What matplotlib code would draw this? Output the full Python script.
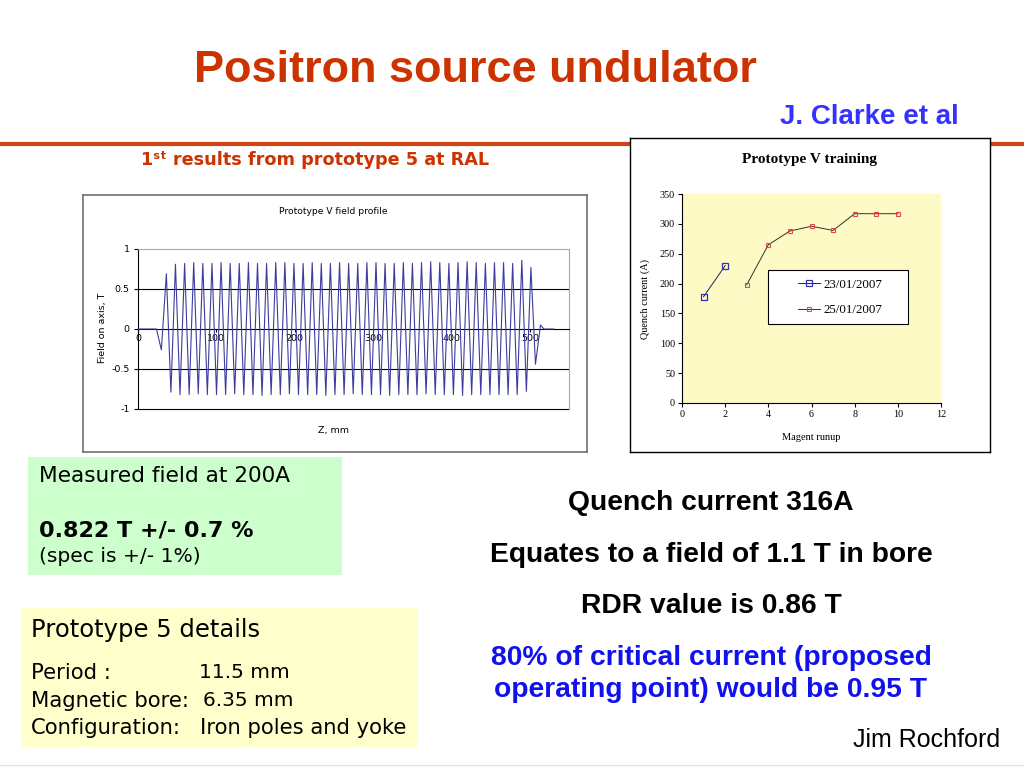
import numpy as np
import matplotlib
matplotlib.use('Agg')
import matplotlib.pyplot as plt
from matplotlib.patches import Rectangle
from matplotlib.lines import Line2D

W, H = 1024, 768

# --- field profile: extrema (z in mm, field in T) ---
start_z = [0.0, 23.5, 29.8]
start_b = [0.0, 0.0, -0.26]
peak_z = [36.2, 47.8, 59.5, 71.1, 82.7, 94.4, 106.0, 117.6, 129.2, 140.9,
          152.5, 164.1, 175.8, 187.4, 199.0, 210.7, 222.3, 233.9, 245.5, 257.2,
          268.8, 280.4, 292.1, 303.7, 315.3, 327.0, 338.6, 350.2, 361.8, 373.5,
          385.1, 396.7, 408.4, 420.0, 431.6, 443.3, 454.9, 466.5, 478.1, 489.8,
          501.4]
peak_b = [0.69, 0.81, 0.82, 0.83, 0.82, 0.82, 0.83, 0.82, 0.82, 0.83,
          0.82, 0.82, 0.83, 0.83, 0.82, 0.82, 0.83, 0.82, 0.82, 0.83,
          0.82, 0.82, 0.83, 0.83, 0.82, 0.82, 0.83, 0.82, 0.83, 0.84,
          0.83, 0.82, 0.83, 0.84, 0.83, 0.82, 0.83, 0.83, 0.82, 0.86,
          0.77]
trough_z = [42.0, 53.6, 65.3, 76.9, 88.5, 100.2, 111.8, 123.4, 135.0, 146.7,
            158.3, 169.9, 181.6, 193.2, 204.8, 216.5, 228.1, 239.7, 251.3, 263.0,
            274.6, 286.2, 297.9, 309.5, 321.1, 332.8, 344.4, 356.0, 367.6, 379.3,
            390.9, 402.5, 414.2, 425.8, 437.4, 449.1, 460.7, 472.3, 483.9, 495.6,
            507.2]
trough_b = [-0.79, -0.82, -0.82, -0.81, -0.82, -0.82, -0.82, -0.81, -0.82, -0.82,
            -0.83, -0.82, -0.82, -0.81, -0.82, -0.82, -0.82, -0.83, -0.82, -0.82,
            -0.81, -0.82, -0.82, -0.82, -0.83, -0.82, -0.82, -0.82, -0.81, -0.82,
            -0.82, -0.82, -0.83, -0.82, -0.82, -0.82, -0.82, -0.82, -0.82, -0.78,
            -0.44]
end_z = [513.6, 518.0, 530.5]
end_b = [0.05, 0.0, 0.0]
profile_xticks = [0, 100, 200, 300, 400, 500]
profile_yticks = [-1, -0.5, 0, 0.5, 1]
profile_ylabels = ['-1', '-0.5', '0', '0.5', '1']

# --- training data ---
run_a = [1, 2]
quench_a = [178, 230]
run_b = [3, 4, 5, 6, 7, 8, 9, 10]
quench_b = [198, 265, 288, 296, 289, 317, 317, 317]
label_a = '23/01/2007'
label_b = '25/01/2007'

COMIC = 'DejaVu Sans'
ARIAL = 'Liberation Sans'
TIMES = 'Liberation Serif'


def rect(x0, y0, x1, y1):
    return [x0 / W, 1 - y1 / H, (x1 - x0) / W, (y1 - y0) / H]


fig = plt.figure(figsize=(10.24, 7.68), dpi=100)
fig.patch.set_facecolor('white')


def put(x, y, s, **kw):
    kw.setdefault('va', 'center')
    fig.text(x / W, 1 - y / H, s, **kw)


def box(x0, y0, x1, y1, color, edge='none', z=0.5, parent=None):
    r = Rectangle((x0 / W, 1 - y1 / H), (x1 - x0) / W, (y1 - y0) / H,
                  transform=fig.transFigure, facecolor=color,
                  edgecolor=edge, lw=0.8, zorder=z, clip_on=False)
    (parent or fig).add_artist(r)


# header
put(475, 70, 'Positron source undulator', family=ARIAL, weight='bold',
    size=32.5, color='#cc3300', ha='center')
put(869, 117, 'J. Clarke et al', family=ARIAL, weight='bold', size=20,
    color='#3333ff', ha='center')
fig.add_artist(Line2D([0, 1], [1 - 144 / H] * 2, transform=fig.transFigure,
                      color='#cc4411', lw=3, zorder=-1))
put(315, 160, '1ˢᵗ results from prototype 5 at RAL', family=COMIC,
    weight='bold', size=12.7, color='#cc3300', ha='center')

# ---------- field profile chart ----------
frame1 = fig.add_axes(rect(83, 195, 587, 452))
frame1.set_xticks([])
frame1.set_yticks([])
for s in frame1.spines.values():
    s.set_color('#707070')
    s.set_linewidth(1.2)

ax1 = fig.add_axes(rect(138, 249, 569, 409))
ax1.set_facecolor('white')
z = np.concatenate([start_z, peak_z, trough_z, end_z])
b = np.concatenate([start_b, peak_b, trough_b, end_b])
order = np.argsort(z)
ax1.plot(z[order], b[order], color='#3d3d9e', lw=0.8, zorder=3)
ax1.set_xlim(0, 550)
ax1.set_ylim(-1, 1)
for v in (-1, -0.5, 0.5):
    ax1.axhline(v, color='black', lw=0.8, zorder=1, clip_on=False)
ax1.spines['top'].set_color('#a8a8a8')
ax1.spines['right'].set_color('#a8a8a8')
ax1.spines['left'].set_color('black')
ax1.spines['bottom'].set_position(('data', 0))
ax1.spines['bottom'].set_color('black')
for s in ax1.spines.values():
    s.set_linewidth(0.8)
ax1.set_xticks(profile_xticks)
ax1.set_xticklabels([str(v) for v in profile_xticks], family=COMIC, size=6.8)
ax1.set_yticks(profile_yticks)
ax1.set_yticklabels(profile_ylabels, family=COMIC, size=6.8)
ax1.tick_params(axis='x', length=2, width=0.8, pad=1.5)
ax1.tick_params(axis='y', length=3, width=0.8, pad=3)
put(333, 212, 'Prototype V field profile', family=COMIC, size=6.6, ha='center')
put(333, 431, 'Z, mm', family=COMIC, size=6.8, ha='center')
put(102, 328, 'Field on axis, T', family=COMIC, size=6.8, ha='center',
    rotation=90)

# ---------- training chart ----------
frame2 = fig.add_axes(rect(630, 138, 990, 452))
frame2.set_xticks([])
frame2.set_yticks([])
for s in frame2.spines.values():
    s.set_color('black')
    s.set_linewidth(1.0)

ax2 = fig.add_axes(rect(682, 194, 941, 403))
ax2.set_facecolor('#fdfac6')
ax2.plot(run_a, quench_a, color='#20205a', lw=0.7, marker='s', ms=4.5,
         mfc='none', mec='#3030b0', mew=0.9, label=label_a)
ax2.plot(run_b, quench_b, color='#303030', lw=0.7, marker='s', ms=3.4,
         mfc='none', mec='#e04848', mew=0.8, label=label_b)
ax2.set_xlim(0, 12)
ax2.set_ylim(0, 350)
ax2.set_xticks(range(0, 13, 2))
ax2.set_yticks(range(0, 351, 50))
for lab in ax2.get_xticklabels() + ax2.get_yticklabels():
    lab.set_family(TIMES)
    lab.set_size(7.3)
ax2.tick_params(length=3, width=0.8, pad=2)
ax2.spines['top'].set_visible(False)
ax2.spines['right'].set_visible(False)
ax2.spines['left'].set_linewidth(0.8)
ax2.spines['bottom'].set_linewidth(0.8)
# legend frame is drawn separately so its size can match the original
box(768, 270, 908, 324, 'white', edge='black', z=4, parent=ax2)
leg = ax2.legend(loc='center', bbox_to_anchor=(840 / W, 1 - 297.5 / H),
                 bbox_transform=fig.transFigure, frameon=False,
                 prop={'family': TIMES, 'size': 9.3}, handlelength=1.7,
                 labelspacing=1.05, handletextpad=0.3)
leg.set_zorder(5)
put(810, 159, 'Prototype V training', family=TIMES, weight='bold', size=11,
    ha='center')
put(811, 438, 'Magent runup', family=TIMES, size=7.5, ha='center')
put(645, 299, 'Quench current (A)', family=TIMES, size=7.4, ha='center',
    rotation=90)

# ---------- note boxes ----------
box(28, 457, 342, 575, '#ccffcc')
put(39, 476, 'Measured field at 200A', family=COMIC, size=15.6)
put(39, 531, '0.822 T +/- 0.7 %', family=COMIC, size=16, weight='bold')
put(39, 557, '(spec is +/- 1%)', family=COMIC, size=14.6)

box(22, 608, 417, 747, '#ffffcc')
put(31, 630, 'Prototype 5 details', family=COMIC, size=17.5)
put(31, 673, 'Period :', family=COMIC, size=15.2)
put(199, 673, '11.5 mm', family=COMIC, size=14.5)
put(31, 701, 'Magnetic bore:', family=COMIC, size=15.2)
put(203, 701, '6.35 mm', family=COMIC, size=14.5)
put(31, 728, 'Configuration:', family=COMIC, size=15.2)
put(200, 728, 'Iron poles and yoke', family=COMIC, size=15.2)

# ---------- right-hand statements ----------
for y, s, c in [(503, 'Quench current 316A', 'black'),
                (555, 'Equates to a field of 1.1 T in bore', 'black'),
                (606, 'RDR value is 0.86 T', 'black'),
                (658, '80% of critical current (proposed', '#1111ee'),
                (690, 'operating point) would be 0.95 T', '#1111ee')]:
    put(711, y, s, family=ARIAL, weight='bold', size=20.3, ha='center', color=c)
put(1000, 740, 'Jim Rochford', family=ARIAL, size=18, ha='right')

fig.add_artist(Line2D([0, 1], [1 - 765 / H] * 2, transform=fig.transFigure,
                      color='#e4e4e4', lw=1))

fig.savefig('out.png', dpi=100)
